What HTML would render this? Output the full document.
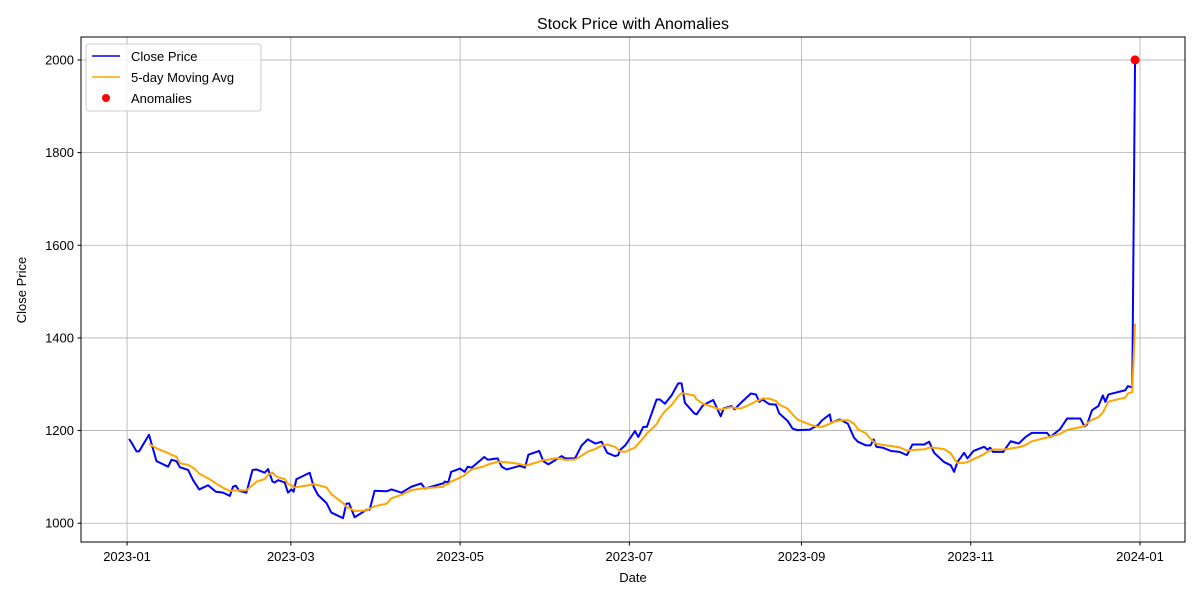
<!DOCTYPE html>
<html><head><meta charset="utf-8"><style>
body{margin:0;background:#fff;}
svg{display:block;font-family:"Liberation Sans","DejaVu Sans",sans-serif;}
</style></head><body>
<svg id="chart" width="1200" height="600" viewBox="0 0 1200 600" xmlns="http://www.w3.org/2000/svg">
<rect width="1200" height="600" fill="#fff"/>
<text x="633" y="29" font-size="16" text-anchor="middle" fill="#000">Stock Price with Anomalies</text>
<g id="grid"></g>
<g id="series"></g>
<rect x="81" y="37" width="1104" height="505" fill="none" stroke="#000" stroke-width="1"/>
<g id="ticks"></g>
<text x="633" y="582" font-size="13" text-anchor="middle">Date</text>
<text transform="translate(26,290) rotate(-90)" font-size="13" text-anchor="middle">Close Price</text>
<g>
<rect x="86" y="44" width="175" height="67" rx="3" fill="#fff" fill-opacity="0.8" stroke="#ccc"/>
<line x1="92" y1="56" x2="120" y2="56" stroke="#0000ff" stroke-width="1.5"/>
<text x="131" y="61" font-size="13">Close Price</text>
<line x1="92" y1="77" x2="120" y2="77" stroke="orange" stroke-width="1.5"/>
<text x="131" y="82" font-size="13">5-day Moving Avg</text>
<circle cx="106" cy="98" r="4" fill="red"/>
<text x="131" y="103" font-size="13">Anomalies</text>
</g>
</svg>
<script>
// days since 2023-01-01
const days = [0.7,1.6,3.4,4.3,7.9,10.6,14.8,16,17.8,19,22,23.8,26,29.2,32,34.6,37,38.2,39.2,40.4,43,45.2,46.6,49.6,50.8,52.4,53.2,54.4,56.8,58,59.2,60,61,65.8,67.3,68.8,71.8,73.6,77.8,79,80,82,86.3,87.4,89.2,93.5,95.3,98.9,102.5,106,107.3,113.9,114.5,115.7,116.8,120,121.6,122.8,124.2,128.7,130,133.5,135,136.8,141.5,143.4,144.6,148.5,150,151.8,154.2,156.6,157.8,161.4,163.8,166,168.7,171,173,175.8,177,177.6,179.5,183,184.2,186,187.3,190.8,192,193.8,196.2,198.6,199.8,201,204.4,205.2,207.6,211.2,213.9,215,217.7,218.9,221.2,224.8,226.6,227.8,229,231.4,233.8,235,238,239.8,241.6,246,249,250.4,253.2,253.8,256.8,259.7,261.9,263.3,266.3,267.9,269,270,272.3,275.3,278.3,281,283,287.3,289,290.8,294.4,296.8,298,299.2,301.6,302.8,305,308.8,310,311,312,315.7,318.4,321.3,323.7,326,331.5,332.7,336.3,338.7,343.5,345,345.9,347.7,350,351.6,352.5,353.6,359.7,360.6,362.2,363.2];
const closes = [1182,1174,1155,1155,1191,1134,1122,1137,1134,1121,1115,1093,1073,1082,1068,1066,1059,1079,1081,1070,1066,1115,1116,1109,1117,1090,1088,1093,1088,1066,1073,1068,1095,1109,1078,1061,1044,1023,1011,1042,1043,1013,1029,1029,1070,1069,1073,1066,1079,1086,1075,1086,1090,1088,1111,1118,1111,1122,1120,1143,1137,1140,1122,1116,1124,1120,1148,1156,1134,1127,1136,1145,1140,1140,1168,1181,1172,1176,1152,1145,1147,1158,1168,1199,1186,1208,1208,1267,1267,1258,1276,1302,1302,1260,1237,1235,1255,1266,1231,1248,1253,1246,1260,1280,1278,1262,1267,1257,1256,1237,1221,1204,1201,1202,1212,1222,1235,1217,1224,1215,1185,1176,1168,1168,1181,1165,1163,1156,1154,1147,1170,1170,1176,1152,1132,1125,1111,1132,1152,1140,1156,1165,1159,1163,1154,1154,1177,1172,1186,1195,1195,1186,1204,1226,1226,1209,1213,1244,1253,1276,1262,1278,1287,1296,1293,2000];
const anomalyDays = [363.2];
const anomalyValues = [2000];
const yTicks = [1000,1200,1400,1600,1800,2000];
const xTickDays = [0,59,120,181,243,304,365];
const xTickLabels = ["2023-01","2023-03","2023-05","2023-07","2023-09","2023-11","2024-01"];

const NS="http://www.w3.org/2000/svg";
const X0=81,X1=1185,Y0=37,Y1=542,DMIN=-16.6,DMAX=381.2,VMIN=959.5,VMAX=2049.5;
const xs=d=>X0+(d-DMIN)/(DMAX-DMIN)*(X1-X0);
const ys=v=>Y1-(v-VMIN)/(VMAX-VMIN)*(Y1-Y0);
function mk(tag,attrs,parent){const e=document.createElementNS(NS,tag);for(const k in attrs)e.setAttribute(k,attrs[k]);parent.appendChild(e);return e;}
const grid=document.getElementById('grid'),ticks=document.getElementById('ticks'),ser=document.getElementById('series');
yTicks.forEach(v=>{const y=ys(v);
 const g=mk('line',{x1:X0,x2:X1,y1:y,y2:y,stroke:'#b0b0b0','stroke-width':0.8},grid);
 
 
 mk('line',{x1:X0-3.5,x2:X0,y1:y,y2:y,stroke:'#000'},ticks);
 const t=mk('text',{x:X0-7,y:y+4.5,'font-size':13,'text-anchor':'end'},ticks);t.textContent=v;
 
 
});
xTickDays.forEach((d,i)=>{const x=xs(d);
 const g=mk('line',{x1:x,x2:x,y1:Y0,y2:Y1,stroke:'#b0b0b0','stroke-width':0.8},grid);
 
 
 mk('line',{x1:x,x2:x,y1:Y1,y2:Y1+3.5,stroke:'#000'},ticks);
 const t=mk('text',{x:x,y:Y1+19,'font-size':13,'text-anchor':'middle'},ticks);t.textContent=xTickLabels[i];
 
 
});
const cp=mk('polyline',{points:days.map((d,i)=>xs(d)+','+ys(closes[i])).join(' '),fill:'none',stroke:'#0000ff','stroke-width':2,'stroke-linejoin':'round'},ser);


const maPts=[];
for(let i=4;i<closes.length;i++){let s=0;for(let j=i-4;j<=i;j++)s+=closes[j];maPts.push(xs(days[i])+','+ys(s/5));}
const ma=mk('polyline',{points:maPts.join(' '),fill:'none',stroke:'orange','stroke-width':2,'stroke-linejoin':'round'},ser);


anomalyDays.forEach((d,i)=>{
 const c=mk('circle',{cx:xs(d),cy:ys(anomalyValues[i]),r:4.5,fill:'red'},ser);
 
 
});
</script>
</body></html>
